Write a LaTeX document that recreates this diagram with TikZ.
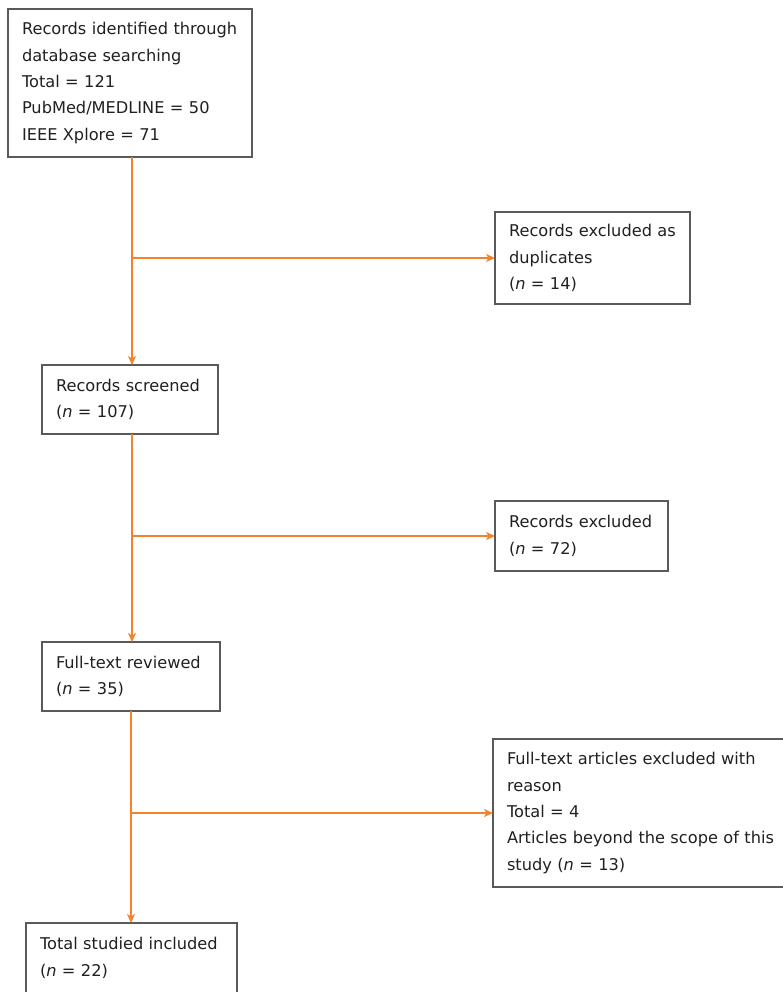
\documentclass[tikz,border=0pt]{standalone}
\usepackage{fontspec}
\setmainfont{DejaVu Sans}
\usetikzlibrary{arrows.meta}
\definecolor{flow}{HTML}{F5822A}
\definecolor{edgegray}{HTML}{5A5A5A}
\definecolor{ink}{HTML}{231F20}
\tikzset{
  box/.style={draw=edgegray, line width=1.2pt, rectangle, anchor=north west,
    inner xsep=14pt, inner ysep=0pt, outer sep=0pt, align=left, text=ink,
    font=\fontsize{16.2}{26.4}\selectfont},
  arr/.style={draw=flow, line width=1.4pt, -{Stealth[length=9pt,width=8pt,inset=2.5pt]}}
}
\begin{document}
\begin{tikzpicture}[x=1pt,y=-1pt]
\useasboundingbox (0,0) rectangle (783,992);
\clip (0,0) rectangle (783,992);
\node[box, text width=216pt, minimum height=148pt] (b1) at (8,9)
  {\mbox{Records identified through}\\ \mbox{database searching}\\ \mbox{Total = 121}\\ \mbox{PubMed/MEDLINE = 50}\\ \mbox{IEEE Xplore = 71}};
\node[box, text width=167pt, minimum height=92pt] (b2) at (495,212)
  {\mbox{Records excluded as}\\ duplicates\\ \mbox{(\textit{n} = 14)}};
\node[box, text width=148pt, minimum height=69pt] (b3) at (42,365)
  {\mbox{Records screened}\\ \mbox{(\textit{n} = 107)}};
\node[box, text width=145pt, minimum height=70pt] (b4) at (495,501)
  {\mbox{Records excluded}\\ \mbox{(\textit{n} = 72)}};
\node[box, text width=150pt, minimum height=69pt] (b5) at (42,642)
  {\mbox{Full-text reviewed}\\ \mbox{(\textit{n} = 35)}};
\node[box, text width=274pt, minimum height=148pt] (b6) at (493,739)
  {\mbox{Full-text articles excluded with}\\ reason\\ \mbox{Total = 4}\\ \mbox{Articles beyond the scope of this}\\ \mbox{study (\textit{n} = 13)}};
\node[box, text width=183pt, minimum height=70pt] (b7) at (26,923)
  {\mbox{Total studied included}\\ \mbox{(\textit{n} = 22)}};
\coordinate (m1) at ([xshift=2pt]b1.south);
\coordinate (m2) at ([xshift=2pt]b3.south);
\coordinate (m3) at (b5.south);
\draw[arr] (m1) -- (b3.north -| m1);
\draw[arr] (b2.west -| m1) -- (b2.west);
\draw[arr] (m2) -- (b5.north -| m2);
\draw[arr] (b4.west -| m2) -- (b4.west);
\draw[arr] (m3) -- (b7.north -| m3);
\draw[arr] (b6.west -| m3) -- (b6.west);
\end{tikzpicture}
\end{document}
